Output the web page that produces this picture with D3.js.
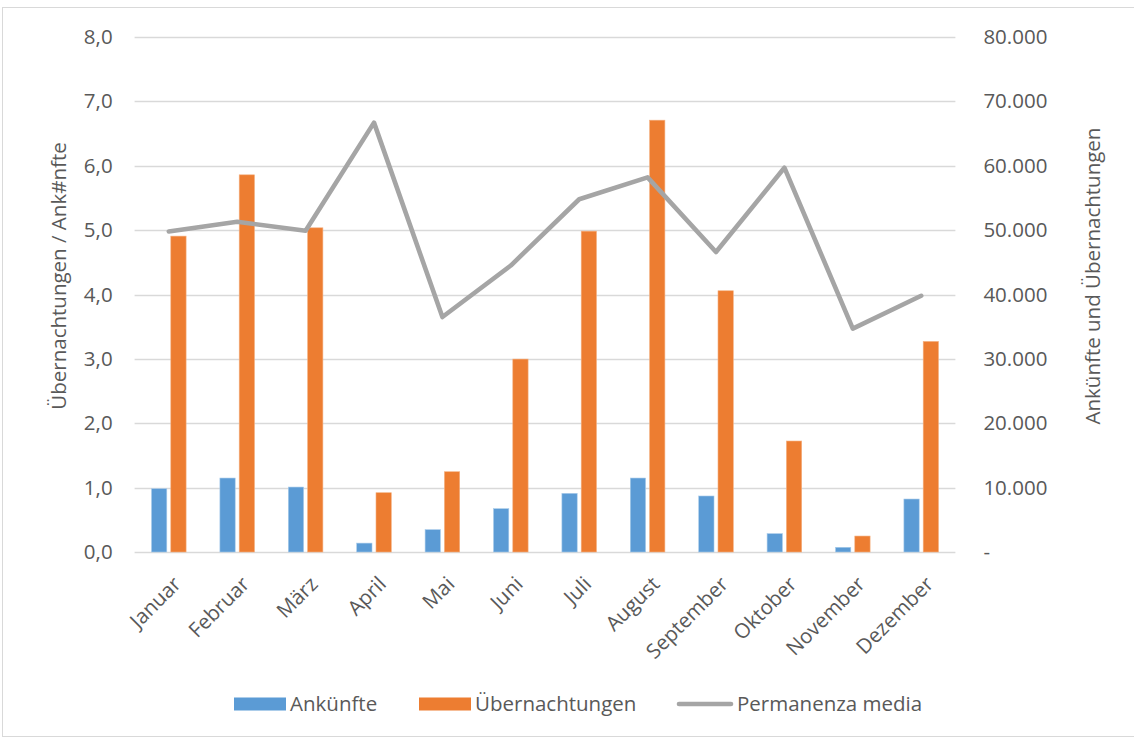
<!DOCTYPE html>
<html>
<head>
<meta charset="utf-8">
<script src="https://cdn.jsdelivr.net/npm/d3@7"></script>
<style>
  html, body { margin: 0; padding: 0; background: #fff; }
  svg { display: block; }
  text { font-family: "Open Sans", "Noto Sans", sans-serif; fill: #595959; }
</style>
</head>
<body>
<svg id="chart" width="1134" height="738"></svg>
<script>
// Monthly tourism figures
const months = ["Januar", "Februar", "März", "April", "Mai", "Juni", "Juli", "August", "September", "Oktober", "November", "Dezember"];
const ankuenfte = [9830, 11490, 10090, 1380, 3470, 6730, 9110, 11490, 8700, 2850, 730, 8230];
const uebernachtungen = [49070, 58590, 50360, 9210, 12470, 29970, 49840, 67080, 40580, 17240, 2480, 32710];
const permanenza = [4.98, 5.13, 4.99, 6.67, 3.65, 4.45, 5.48, 5.82, 4.66, 5.97, 3.47, 3.98];
const leftTicks = [0, 1, 2, 3, 4, 5, 6, 7, 8];
const rightTicks = [0, 10000, 20000, 30000, 40000, 50000, 60000, 70000, 80000];
const seriesNames = ["Ankünfte", "Übernachtungen", "Permanenza media"];
const colors = { blue: "#5B9BD5", orange: "#ED7D31", gray: "#A5A5A5" };

const svg = d3.select("#chart");
const plot = { left: 134.6, right: 955.4, top: 37, bottom: 552 };

// Outer chart frame
svg.append("rect")
  .attr("x", 2.5).attr("y", 7.5)
  .attr("width", 1140).attr("height", 729)
  .attr("fill", "none").attr("stroke", "#D9D9D9").attr("stroke-width", 1);

const x = d3.scaleBand().domain(months).range([plot.left, plot.right]).padding(0);
const xs = d3.scaleBand().domain(["a", "u"])
  .range([x.bandwidth() / 2 - 17.3, x.bandwidth() / 2 + 17.3])
  .paddingInner(0.207).paddingOuter(0);
const yL = d3.scaleLinear().domain([0, 8]).range([plot.bottom, plot.top]);
const yR = d3.scaleLinear().domain([0, 80000]).range([plot.bottom, plot.top]);

const deNum = d3.formatLocale({ decimal: ",", thousands: ".", grouping: [3], currency: ["", "€"] });
const fmtL = deNum.format(".1f");
const fmtR = v => v === 0 ? "-" : deNum.format(",.0f")(v);

// Horizontal gridlines
svg.append("g")
  .selectAll("line")
  .data(leftTicks)
  .join("line")
  .attr("x1", plot.left).attr("x2", plot.right)
  .attr("y1", d => Math.round(yL(d)) + 0.5).attr("y2", d => Math.round(yL(d)) + 0.5)
  .attr("stroke", "#D9D9D9").attr("stroke-width", 1.3);

// Left axis
const axL = svg.append("g").attr("transform", `translate(${plot.left - 22},0)`)
  .call(d3.axisLeft(yL).tickValues(leftTicks).tickFormat(fmtL).tickSize(0).tickPadding(0));
axL.select(".domain").remove();
axL.selectAll("text").attr("font-size", 20.5).style("font-family", "'Open Sans', sans-serif").attr("fill", "#595959");

// Right axis
const axR = svg.append("g").attr("transform", `translate(${plot.right + 28},0)`)
  .call(d3.axisRight(yR).tickValues(rightTicks).tickFormat(fmtR).tickSize(0).tickPadding(0));
axR.select(".domain").remove();
axR.selectAll("text").attr("font-size", 20.5).style("font-family", "'Open Sans', sans-serif").attr("fill", "#595959");

// Axis titles
svg.append("text")
  .attr("transform", `translate(66,276) rotate(-90)`)
  .attr("text-anchor", "middle")
  .attr("font-size", 20.5)
  .text("Übernachtungen / Ank#nfte");
svg.append("text")
  .attr("transform", `translate(1100,276) rotate(-90)`)
  .attr("text-anchor", "middle")
  .attr("font-size", 20.5)
  .text("Ankünfte und Übernachtungen");

// Bars
const groups = svg.append("g").selectAll("g")
  .data(months)
  .join("g")
  .attr("transform", d => `translate(${x(d)},0)`);

groups.append("rect")
  .attr("x", (d, i) => xs("a"))
  .attr("y", (d, i) => yR(ankuenfte[i]))
  .attr("width", xs.bandwidth())
  .attr("height", (d, i) => yR(0) - yR(ankuenfte[i]))
  .attr("fill", colors.blue)
  .attr("stroke", "#A9CBEA").attr("stroke-width", 0.6);

groups.append("rect")
  .attr("x", (d, i) => xs("u"))
  .attr("y", (d, i) => yR(uebernachtungen[i]))
  .attr("width", xs.bandwidth())
  .attr("height", (d, i) => yR(0) - yR(uebernachtungen[i]))
  .attr("fill", colors.orange)
  .attr("stroke", "#F4B183").attr("stroke-width", 0.6);

// Average stay line
const line = d3.line()
  .x((d, i) => x(months[i]) + x.bandwidth() / 2)
  .y(d => yL(d));
svg.append("path")
  .datum(permanenza)
  .attr("d", line)
  .attr("fill", "none")
  .attr("stroke", colors.gray)
  .attr("stroke-width", 4.6)
  .attr("stroke-linejoin", "round")
  .attr("stroke-linecap", "round");

// Month labels
svg.append("g").selectAll("text")
  .data(months)
  .join("text")
  .attr("transform", d => `translate(${x(d) + x.bandwidth() / 2 + 3},575) rotate(-45)`)
  .attr("text-anchor", "end")
  .attr("dy", "0.72em")
  .attr("font-size", 20.5)
  .text(d => d);

// Legend
const lg = svg.append("g");
const legendItems = [
  { name: seriesNames[0], type: "rect", color: colors.blue, x0: 234, tx: 290 },
  { name: seriesNames[1], type: "rect", color: colors.orange, x0: 419, tx: 475 },
  { name: seriesNames[2], type: "line", color: colors.gray, x0: 679, tx: 737 }
];
legendItems.forEach(it => {
  if (it.type === "rect") {
    lg.append("rect").attr("x", it.x0).attr("y", 697.5).attr("width", 52).attr("height", 13).attr("fill", it.color);
  } else {
    lg.append("line").attr("x1", it.x0).attr("x2", it.x0 + 52).attr("y1", 704).attr("y2", 704)
      .attr("stroke", it.color).attr("stroke-width", 4.6).attr("stroke-linecap", "round");
  }
  lg.append("text").attr("x", it.tx).attr("y", 704).attr("dy", "0.36em")
    .attr("font-size", 20.5).text(it.name);
});
</script>
</body>
</html>
